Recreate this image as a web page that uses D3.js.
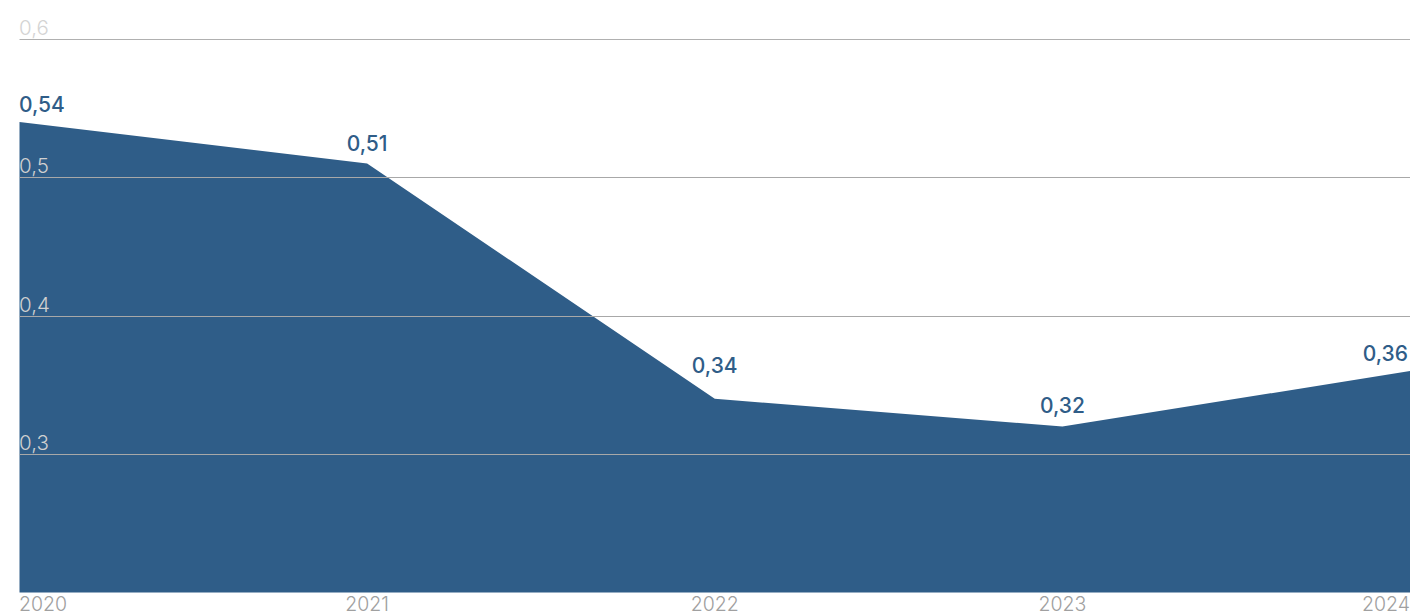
<!DOCTYPE html>
<html><head><meta charset="utf-8">
<script src="https://cdn.jsdelivr.net/npm/d3@7"></script>
<style>
html,body{margin:0;padding:0;background:#fff;}
text{font-family:Inter, "Noto Sans", sans-serif;}
</style></head>
<body><svg id="c" width="1412" height="614"></svg>
<script>
const years = ["2020","2021","2022","2023","2024"];
const values = [0.54, 0.51, 0.34, 0.32, 0.36];
const valueLabels = ["0,54","0,51","0,34","0,32","0,36"];
const yTicks = [0.3, 0.4, 0.5, 0.6];
const yTickLabels = ["0,3","0,4","0,5","0,6"];

(function(){
const svg = d3.select("#c");
const mLeft = 19.5, mRight = 1410, mTop = 39, mBottom = 592.5;
const x = d3.scalePoint().domain(years).range([mLeft, mRight]);
const y = d3.scaleLinear().domain([0.2, 0.6]).range([mBottom, mTop]);

const data = years.map((yr, i) => ({yr, v: values[i], lab: valueLabels[i]}));

svg.append("path").datum(data)
  .attr("fill", "#2f5d88")
  .attr("d", d3.area().x(d => x(d.yr)).y0(y(0.2)).y1(d => y(d.v)));

svg.append("g").selectAll("line").data(yTicks).join("line")
  .attr("x1", mLeft).attr("x2", mRight)
  .attr("y1", d => Math.round(y(d)) + 0.5).attr("y2", d => Math.round(y(d)) + 0.5)
  .attr("stroke", d => d === 0.6 ? "#b0b0b0" : "#a8a8a8").attr("stroke-width", 1);

svg.append("g").selectAll("text").data(yTicks).join("text")
  .attr("x", 19).attr("y", d => y(d) - 4)
  .attr("fill", d => d === 0.6 ? "#d4d4d4" : "#d0d0d0")
  .attr("font-size", 20.5).attr("font-weight", 300)
  .text((d, i) => yTickLabels[i]);

svg.append("g").selectAll("text").data(years).join("text")
  .attr("x", (d, i) => i === 0 ? 19 : (i === years.length - 1 ? 1410 : x(d)))
  .attr("y", 610.5)
  .attr("text-anchor", (d, i) => i === 0 ? "start" : (i === years.length - 1 ? "end" : "middle"))
  .attr("fill", "#a0a0a0").attr("font-size", 19.5).attr("font-weight", 300)
  .text(d => d);

// line interpolation helper to keep value labels clear of the area edge
function edgeY(px) {
  const xs = data.map(d => x(d.yr));
  if (px <= xs[0]) return y(data[0].v);
  if (px >= xs[xs.length - 1]) return y(data[data.length - 1].v);
  for (let i = 0; i < xs.length - 1; i++) {
    if (px >= xs[i] && px <= xs[i + 1]) {
      const t = (px - xs[i]) / (xs[i + 1] - xs[i]);
      return y(data[i].v) + t * (y(data[i + 1].v) - y(data[i].v));
    }
  }
}
const labels = svg.append("g").selectAll("text").data(data).join("text")
  .attr("x", (d, i) => i === 0 ? 19 : (i === data.length - 1 ? 1408 : x(d.yr)))
  .attr("text-anchor", (d, i) => i === 0 ? "start" : (i === data.length - 1 ? "end" : "middle"))
  .attr("fill", "#2f5d88").attr("font-size", 21).attr("font-weight", 500)
  .text(d => d.lab);
labels.each(function(d) {
  const bb = this.getBBox();
  let m = Infinity;
  for (let px = bb.x; px <= bb.x + bb.width; px += 1) m = Math.min(m, edgeY(px));
  d3.select(this).attr("y", m - 10);
});
})();
</script></body></html>
